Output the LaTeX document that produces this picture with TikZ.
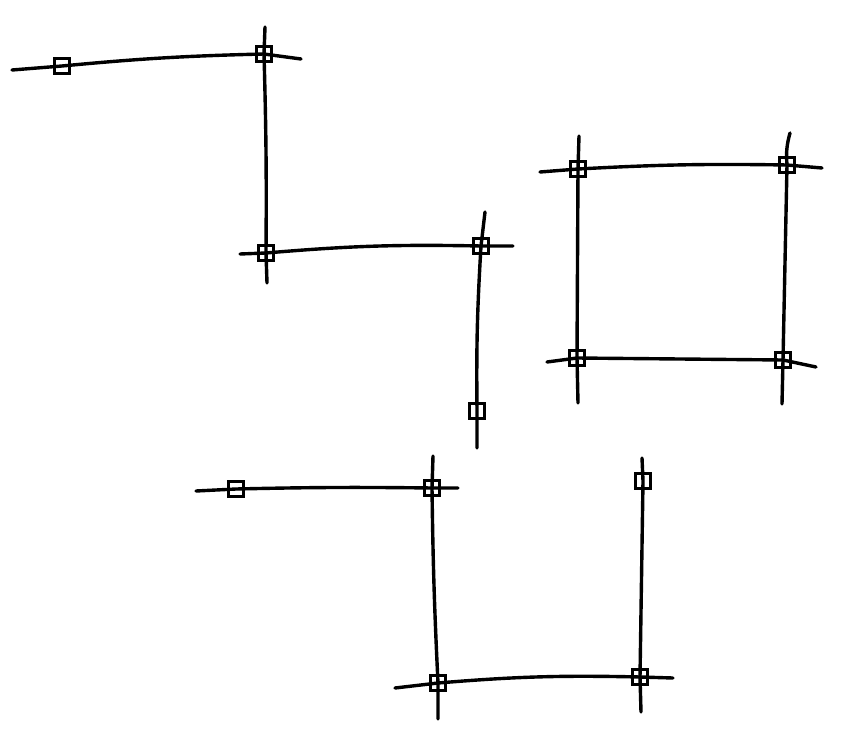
\documentclass[tikz,border=0pt]{standalone}
\begin{document}
\begin{tikzpicture}[x=1pt,y=-1pt,
  ln/.style={line width=3.4pt,line cap=round,line join=round},
  sq/.style={draw,line width=2.6pt,minimum size=15pt,inner sep=0pt,rectangle}]
\useasboundingbox (0,0) rectangle (862,738);
% group 1
\node[sq] (s1) at (62,66) {};
\node[sq] (s2) at (264,54) {};
\node[sq] (s3) at (266,253) {};
\node[sq] (s4) at (481,246) {};
\node[sq] (s5) at (477,411) {};
\coordinate (c1a) at (12,70); \coordinate (c1b) at (301,59);
\coordinate (c2a) at (265,27); \coordinate (c2b) at (267,283);
\coordinate (c3a) at (240,254); \coordinate (c3b) at (513,246);
\coordinate (c4a) at (485,212); \coordinate (c4b) at (477,448);
\draw[ln] (c1a) -- (s1.center) to[bend left=2] (s2.center) -- (c1b);
\draw[ln] (c2a) -- (s2.center) to[bend left=1] (s3.center) -- (c2b);
\draw[ln] (c3a) -- (s3.center) to[bend left=3] (s4.center) -- (c3b);
\draw[ln] (c4a) -- (s4.center) to[bend right=2] (s5.center) -- (c4b);
% group 2
\node[sq] (s6) at (578,169) {};
\node[sq] (s7) at (787,165) {};
\node[sq] (s8) at (577,358) {};
\node[sq] (s9) at (783,360) {};
\coordinate (c5a) at (540,172); \coordinate (c5b) at (822,168);
\coordinate (c6a) at (579,136); \coordinate (c6b) at (578,403);
\coordinate (c7a) at (790,133); \coordinate (c7b) at (782,404);
\coordinate (c8a) at (547,362); \coordinate (c8b) at (816,367);
\draw[ln] (c5a) -- (s6.center) to[bend left=2] (s7.center) -- (c5b);
\draw[ln] (c6a) -- (s6.center) -- (s8.center) -- (c6b);
\draw[ln] (c7a) to[bend right=10] (s7.center) -- (s9.center) -- (c7b);
\draw[ln] (c8a) -- (s8.center) -- (s9.center) -- (c8b);
% group 3
\node[sq] (s10) at (236,489) {};
\node[sq] (s11) at (432,488) {};
\node[sq] (s12) at (438,683) {};
\node[sq] (s13) at (640,677) {};
\node[sq] (s14) at (643,481) {};
\coordinate (c9a) at (196,491); \coordinate (c9b) at (458,488);
\coordinate (c10a) at (433,456); \coordinate (c10b) at (438,719);
\coordinate (c11a) at (395,688); \coordinate (c11b) at (673,678);
\coordinate (c12a) at (642,458); \coordinate (c12b) at (641,712);
\draw[ln] (c9a) -- (s10.center) to[bend left=1] (s11.center) -- (c9b);
\draw[ln] (c10a) -- (s11.center) to[bend right=1] (s12.center) -- (c10b);
\draw[ln] (c11a) -- (s12.center) to[bend left=3] (s13.center) -- (c11b);
\draw[ln] (c12a) -- (s14.center) -- (s13.center) -- (c12b);
\end{tikzpicture}
\end{document}
